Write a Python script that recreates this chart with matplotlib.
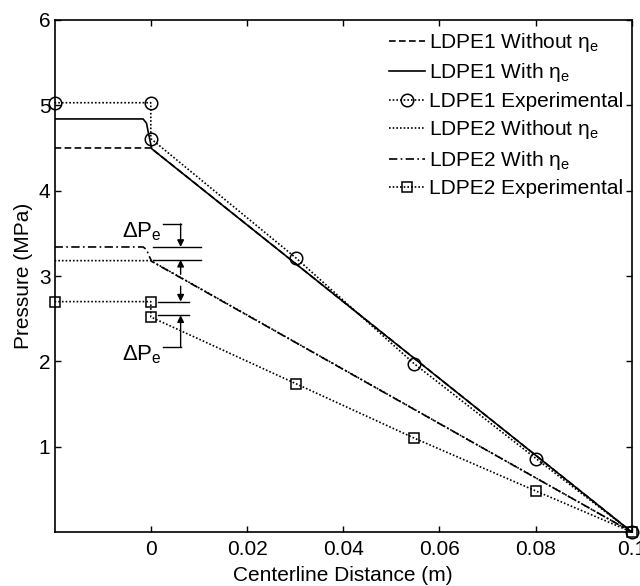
import matplotlib
matplotlib.use("Agg")
import matplotlib.pyplot as plt

plt.rcParams['font.family'] = ['Liberation Sans', 'DejaVu Sans']
plt.rcParams['mathtext.fontset'] = 'custom'
plt.rcParams['mathtext.rm'] = 'Liberation Sans'
plt.rcParams['mathtext.it'] = 'Liberation Sans:italic'
plt.rcParams['mathtext.default'] = 'regular'

# ---- data ----
ldpe1_without_x = [-0.02, 0.0, 0.1]
ldpe1_without_y = [4.50, 4.50, 0.0]

ldpe1_with_x = [-0.02, -0.0016, -0.0009, -0.0004, 0.0002, 0.1]
ldpe1_with_y = [4.84, 4.84, 4.79, 4.65, 4.49, 0.0]

ldpe1_exp_x = [-0.02, 0.0, 0.0, 0.0302, 0.0548, 0.0801, 0.1]
ldpe1_exp_y = [5.03, 5.03, 4.61, 3.21, 1.97, 0.86, 0.0]

ldpe2_without_x = [-0.02, 0.0, 0.1]
ldpe2_without_y = [3.18, 3.18, 0.0]

ldpe2_with_x = [-0.02, -0.0016, -0.0009, -0.0004, 0.0002, 0.1]
ldpe2_with_y = [3.34, 3.34, 3.31, 3.24, 3.17, 0.0]

ldpe2_exp_x = [-0.02, 0.0, 0.0, 0.0301, 0.0548, 0.0801, 0.1]
ldpe2_exp_y = [2.70, 2.70, 2.52, 1.74, 1.10, 0.48, 0.0]

labels = ['LDPE1 Without η$_e$', 'LDPE1 With η$_e$', 'LDPE1 Experimental',
          'LDPE2 Without η$_e$', 'LDPE2 With η$_e$', 'LDPE2 Experimental']

xticks = [0, 0.02, 0.04, 0.06, 0.08, 0.1]
xticklabels = ['0', '0.02', '0.04', '0.06', '0.08', '0.1']
yticks = [1, 2, 3, 4, 5, 6]
yticklabels = ['1', '2', '3', '4', '5', '6']

FS = 15

fig = plt.figure(figsize=(6.4, 5.86), dpi=100)
ax = fig.add_axes([0.0853, 0.092, 0.902, 0.874])

lw = 1.2
ax.plot(ldpe1_without_x, ldpe1_without_y, color='black', lw=lw, linestyle=(0, (4, 2)), label=labels[0])
ax.plot(ldpe1_with_x, ldpe1_with_y, color='black', lw=lw, linestyle='-', label=labels[1])
ax.plot(ldpe1_exp_x, ldpe1_exp_y, color='black', lw=lw, linestyle=(0, (1, 1.2)), marker='o',
        markersize=9, markerfacecolor='none', markeredgewidth=1.1, clip_on=False, label=labels[2])
ax.plot(ldpe2_without_x, ldpe2_without_y, color='black', lw=lw, linestyle=(0, (1, 1.2)), label=labels[3])
ax.plot(ldpe2_with_x, ldpe2_with_y, color='black', lw=lw, linestyle=(0, (5, 2, 1, 2)), label=labels[4])
ax.plot(ldpe2_exp_x, ldpe2_exp_y, color='black', lw=lw, linestyle=(0, (1, 1.2)), marker='s',
        markersize=7, markerfacecolor='none', markeredgewidth=1.1, clip_on=False, label=labels[5])

ax.set_xlim(-0.02, 0.1)
ax.set_ylim(0, 6)
ax.set_xticks(xticks)
ax.set_xticklabels(xticklabels)
ax.set_yticks(yticks)
ax.set_yticklabels(yticklabels)
ax.tick_params(direction='in', length=4, width=1, labelsize=FS, top=True, right=True)
ax.tick_params(axis='x', pad=6)
ax.tick_params(axis='y', pad=3)
for s in ax.spines.values():
    s.set_linewidth(1.2)

ax.set_xlabel('Centerline Distance (m)', fontsize=FS, labelpad=5)
ax.set_ylabel('Pressure (MPa)', fontsize=FS, labelpad=4)

# ---- ΔPe annotations ----
ak = dict(arrowstyle='-|>', color='black', lw=1.0, mutation_scale=10, shrinkA=0, shrinkB=0)
xa = 0.0062
# upper pair
ax.plot([0.0005, 0.0105], [3.34, 3.34], color='black', lw=1.0)
ax.plot([0.0005, 0.0105], [3.19, 3.19], color='black', lw=1.0)
ax.plot([0.0026, xa], [3.61, 3.61], color='black', lw=1.0)
ax.annotate('', xy=(xa, 3.34), xytext=(xa, 3.61), arrowprops=ak)
ax.annotate('', xy=(xa, 3.19), xytext=(xa, 3.02), arrowprops=ak)
ax.text(0.0022, 3.52, 'ΔP$_e$', ha='right', va='center', fontsize=FS + 1)
# lower pair
ax.plot([0.0015, 0.008], [2.70, 2.70], color='black', lw=1.0)
ax.plot([0.0015, 0.008], [2.54, 2.54], color='black', lw=1.0)
ax.plot([0.0026, xa], [2.17, 2.17], color='black', lw=1.0)
ax.annotate('', xy=(xa, 2.70), xytext=(xa, 2.88), arrowprops=ak)
ax.annotate('', xy=(xa, 2.54), xytext=(xa, 2.17), arrowprops=ak)
ax.text(0.0022, 2.08, 'ΔP$_e$', ha='right', va='center', fontsize=FS + 1)

ax.legend(loc='upper right', frameon=False, fontsize=FS, numpoints=1, handlelength=1.75,
          handletextpad=0.2, labelspacing=0.36, borderaxespad=0.0, bbox_to_anchor=(1.0, 0.995))

fig.savefig('out.png', dpi=100)
